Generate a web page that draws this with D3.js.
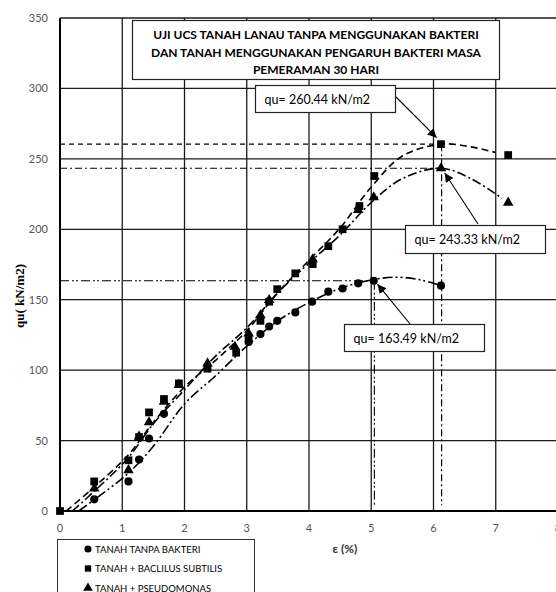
<!DOCTYPE html>
<html>
<head>
<meta charset="utf-8">
<script src="https://cdn.jsdelivr.net/npm/d3@7"></script>
<style>
  body { margin: 0; background: #fff; }
  text { font-family: Lato, "Open Sans", sans-serif; }
</style>
</head>
<body>
<div id="chart"></div>
<script>
const WIDTH = 556;
const HEIGHT = 592;

// measured points (strain %, qu kN/m2)
const tanpaX = [0.55, 1.1, 1.27, 1.43, 1.67, 3.03, 3.22, 3.36, 3.49, 3.78, 4.05, 4.31, 4.54, 4.79, 5.04, 6.12];
const tanpaY = [8.3, 21, 36.5, 51.5, 69, 120, 125.6, 131, 135, 141, 148.6, 155.7, 158, 161.6, 163.49, 160];

const bacillusX = [0, 0.55, 1.1, 1.27, 1.43, 1.67, 1.91, 2.37, 2.83, 3.03, 3.22, 3.36, 3.49, 3.78, 4.06, 4.31, 4.54, 4.81, 5.05, 6.12, 7.2];
const bacillusY = [0, 21, 36, 52.5, 70, 79.5, 90.6, 101, 112.4, 122.6, 135, 148.6, 157.5, 168.7, 175.3, 188, 200, 216.5, 237.8, 260.44, 252.7];

const pseudoX = [0.55, 1.1, 1.27, 1.43, 1.67, 1.91, 2.37, 2.81, 3.03, 3.22, 3.36, 4.06, 4.79, 5.04, 6.12, 7.2];
const pseudoY = [16, 29, 52.8, 63, 77.6, 89.5, 104.8, 116.6, 126, 139, 149.8, 178.7, 213.7, 222.7, 243.33, 218.9];

// smoothed trend lines
const trendTanpa = [[0.3, 0], [0.55, 8], [1.1, 27], [1.5, 46], [2, 76], [2.5, 96], [3, 117], [3.5, 135], [4, 148], [4.5, 158], [5, 164], [5.4, 166], [5.8, 164], [6.12, 160]];
const trendBacillus = [[0.1, 0], [0.55, 17], [1.1, 40], [1.5, 63], [2, 88], [2.5, 107], [3, 128], [3.5, 155], [4, 178], [4.5, 201], [5, 230], [5.5, 252], [6.12, 260.44], [6.6, 258.5], [7.0, 254.5]];
const trendPseudo = [[0.2, 0], [0.55, 14], [1.1, 38], [1.5, 62], [2, 86], [2.5, 110], [3, 130], [3.5, 155], [4, 176], [4.5, 196], [5, 219], [5.5, 236], [6.12, 243.33], [6.6, 236], [7.1, 222]];

// peak values
const peakLabels = ["qu= 260.44 kN/m2", "qu= 243.33 kN/m2", "qu= 163.49 kN/m2"];
const peakX = [6.12, 6.12, 5.05];
const peakY = [260.44, 243.33, 163.49];

const xTicks = [0, 1, 2, 3, 4, 5, 6, 7, 8];
const yTicks = [0, 50, 100, 150, 200, 250, 300, 350];

const titleLines = ["UJI UCS TANAH LANAU TANPA MENGGUNAKAN BAKTERI", "DAN TANAH MENGGUNAKAN PENGARUH BAKTERI MASA", "PEMERAMAN 30 HARI"];
const legendNames = ["TANAH TANPA BAKTERI", "TANAH + BACLILUS SUBTILIS", "TANAH + PSEUDOMONAS"];

const svg = d3.select("#chart")
    .append("svg")
    .attr("width", WIDTH)
    .attr("height", HEIGHT);

const x = d3.scaleLinear().domain([0, 8]).range([60, 558]);
const y = d3.scaleLinear().domain([0, 350]).range([511, 18]);

svg.append("defs").append("marker")
    .attr("id", "arrow")
    .attr("viewBox", "0 0 10 10")
    .attr("refX", 10).attr("refY", 5)
    .attr("markerWidth", 9).attr("markerHeight", 9)
    .attr("markerUnits", "userSpaceOnUse")
    .attr("orient", "auto")
    .append("path")
    .attr("d", "M0,0 L10,5 L0,10 z")
    .attr("fill", "#000");

/* GRID */
const grid = svg.append("g");

grid.selectAll(".vg")
    .data(xTicks.slice(1))
    .enter()
    .append("line")
    .attr("x1", d => x(d)).attr("x2", d => x(d))
    .attr("y1", y(0)).attr("y2", y(350))
    .attr("stroke", "#1a1a1a")
    .attr("stroke-width", 1.3);

grid.selectAll(".hg")
    .data(yTicks.slice(1))
    .enter()
    .append("line")
    .attr("x1", x(0)).attr("x2", x(8))
    .attr("y1", d => y(d)).attr("y2", d => y(d))
    .attr("stroke", "#1a1a1a")
    .attr("stroke-width", 1.3);

// axes lines
svg.append("line")
    .attr("x1", x(0)).attr("x2", x(0))
    .attr("y1", y(0)).attr("y2", y(350))
    .attr("stroke", "#000").attr("stroke-width", 2);
svg.append("line")
    .attr("x1", x(0)).attr("x2", x(8))
    .attr("y1", y(0)).attr("y2", y(0))
    .attr("stroke", "#000").attr("stroke-width", 2);

// tick labels
svg.append("g").selectAll("text")
    .data(xTicks)
    .enter()
    .append("text")
    .attr("x", d => x(d))
    .attr("y", 532)
    .attr("text-anchor", "middle")
    .attr("font-size", 11)
    .attr("fill", "#555")
    .text(d => d);

svg.append("g").selectAll("text")
    .data(yTicks)
    .enter()
    .append("text")
    .attr("x", 48)
    .attr("y", d => y(d) + 4)
    .attr("text-anchor", "end")
    .attr("font-size", 11)
    .attr("fill", "#555")
    .text(d => d);

svg.append("text")
    .attr("x", 345).attr("y", 553)
    .attr("text-anchor", "middle")
    .attr("font-size", 12)
    .attr("font-weight", "bold")
    .attr("fill", "#333")
    .text("ε (%)");

svg.append("text")
    .attr("transform", "translate(24, 296) rotate(-90)")
    .attr("text-anchor", "middle")
    .attr("font-size", 13)
    .attr("font-weight", "bold")
    .style("font-family", "'Liberation Serif', serif")
    .text("qu( kN/m2)");

/* REFERENCE LINES AT PEAKS */
const refDash = ["5,4", "7,3,2,3", "9,3,2,2,2,3"];
const refs = svg.append("g");
peakY.forEach((v, i) => {
    refs.append("line")
        .attr("x1", x(0)).attr("x2", x(peakX[i]))
        .attr("y1", y(v)).attr("y2", y(v))
        .attr("stroke", "#000").attr("stroke-width", 1.1)
        .attr("stroke-dasharray", refDash[i]);
});
// vertical drops
refs.append("line")
    .attr("x1", x(6.13)).attr("x2", x(6.13))
    .attr("y1", y(260.44)).attr("y2", y(4))
    .attr("stroke", "#000").attr("stroke-width", 1.2)
    .attr("stroke-dasharray", refDash[1]);
refs.append("line")
    .attr("x1", x(5.05)).attr("x2", x(5.05))
    .attr("y1", y(163.49)).attr("y2", y(4))
    .attr("stroke", "#000").attr("stroke-width", 1.1)
    .attr("stroke-dasharray", refDash[2]);

/* TREND CURVES */
const line = d3.line()
    .curve(d3.curveCatmullRom.alpha(0.5))
    .x(d => x(d[0]))
    .y(d => y(d[1]));

const curves = [
    { pts: trendTanpa, dash: "10,3,2,3,2,3" },
    { pts: trendBacillus, dash: "7,4" },
    { pts: trendPseudo, dash: "9,3,2,3" }
];

svg.append("g").selectAll("path")
    .data(curves)
    .enter()
    .append("path")
    .attr("d", d => line(d.pts))
    .attr("fill", "none")
    .attr("stroke", "#000")
    .attr("stroke-width", 1.6)
    .attr("stroke-dasharray", d => d.dash);

/* MARKERS */
const series = [
    { xs: tanpaX, ys: tanpaY, type: d3.symbolCircle, size: 52 },
    { xs: pseudoX, ys: pseudoY, type: d3.symbolTriangle, size: 48 },
    { xs: bacillusX, ys: bacillusY, type: d3.symbolSquare, size: 60 }
];

series.forEach(s => {
    svg.append("g").selectAll("path")
        .data(s.xs.map((v, i) => [v, s.ys[i]]))
        .enter()
        .append("path")
        .attr("transform", d => `translate(${x(d[0])}, ${y(d[1])})`)
        .attr("d", d3.symbol().type(s.type).size(s.size))
        .attr("fill", "#000");
});

/* TITLE BOX */
svg.append("rect")
    .attr("x", 132.5).attr("y", 20.5)
    .attr("width", 367).attr("height", 59)
    .attr("fill", "#fff").attr("stroke", "#222").attr("stroke-width", 1.2);

svg.append("g").selectAll("text")
    .data(titleLines)
    .enter()
    .append("text")
    .attr("x", 316)
    .attr("y", (d, i) => 39 + i * 17.5)
    .attr("text-anchor", "middle")
    .attr("font-size", 12)
    .attr("font-weight", "bold")
    .text(d => d);

/* PEAK CALLOUTS */
const boxes = [
    { x: 255.5, y: 85.5, w: 140, h: 27, from: [396, 97] },
    { x: 405.5, y: 225.5, w: 140, h: 28, from: [478, 224] },
    { x: 344.5, y: 324.5, w: 140, h: 27, from: [410, 324] }
];
const arrowTo = [[6.05, 265], [6.18, 240], [5.1, 161]];

boxes.forEach((b, i) => {
    svg.append("line")
        .attr("x1", b.from[0]).attr("y1", b.from[1])
        .attr("x2", x(arrowTo[i][0])).attr("y2", y(arrowTo[i][1]))
        .attr("stroke", "#000").attr("stroke-width", 1.1)
        .attr("marker-end", "url(#arrow)");
    svg.append("rect")
        .attr("x", b.x).attr("y", b.y)
        .attr("width", b.w).attr("height", b.h)
        .attr("fill", "#fff").attr("stroke", "#222").attr("stroke-width", 1.2);
    svg.append("text")
        .attr("x", b.x + 9).attr("y", b.y + b.h / 2 + 4.5)
        .attr("font-size", 12.5)
        .text(peakLabels[i]);
});

/* LEGEND */
svg.append("rect")
    .attr("x", 57.5).attr("y", 539.5)
    .attr("width", 197).attr("height", 70)
    .attr("fill", "#fff").attr("stroke", "#333").attr("stroke-width", 1);

const legendSymbols = [d3.symbolCircle, d3.symbolSquare, d3.symbolTriangle];
legendNames.forEach((n, i) => {
    const ly = 549 + i * 19.5;
    svg.append("path")
        .attr("transform", `translate(88, ${ly})`)
        .attr("d", d3.symbol().type(legendSymbols[i]).size(40))
        .attr("fill", "#000");
    svg.append("text")
        .attr("x", 95).attr("y", ly + 3.5)
        .attr("font-size", 9.5)
        .text(n);
});
</script>
</body>
</html>
